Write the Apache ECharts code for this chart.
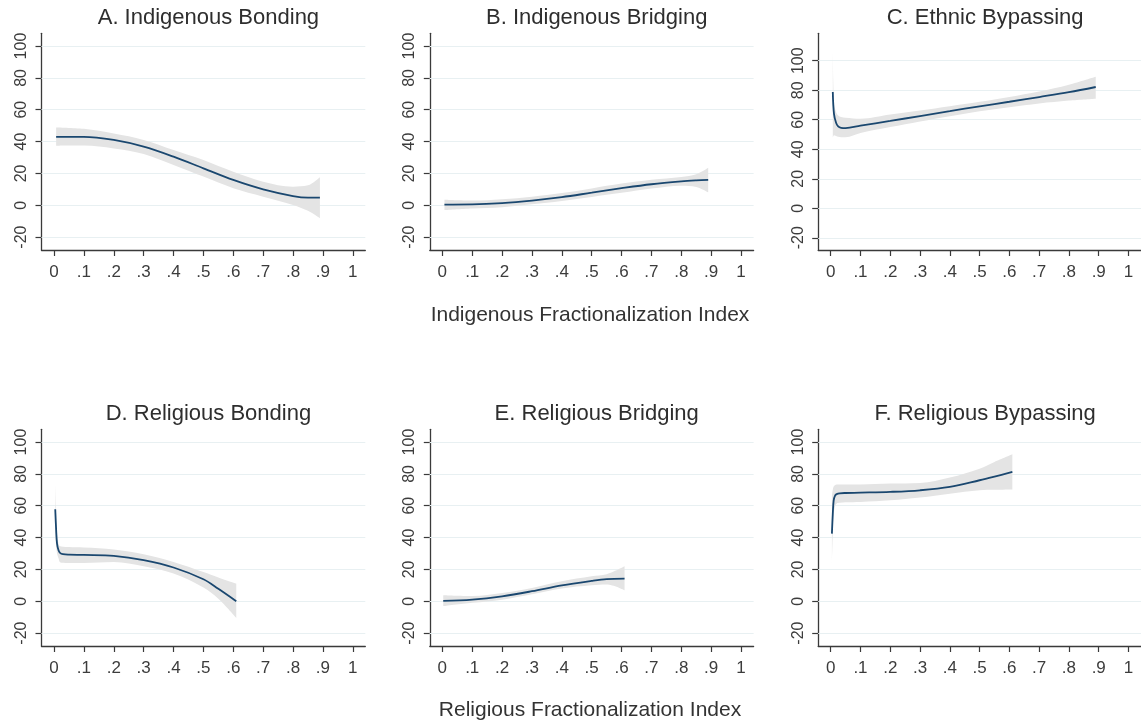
<!DOCTYPE html>
<html>
<head>
<meta charset="utf-8">
<script src="https://cdn.jsdelivr.net/npm/echarts@6/dist/echarts.min.js"></script>
<style>
html,body{margin:0;padding:0;background:#fff;}
#chart{width:1141px;height:726px;}
</style>
</head>
<body>
<div id="chart"></div>
<script>
// ---------- data ----------
const panelTitles = ["A. Indigenous Bonding","B. Indigenous Bridging","C. Ethnic Bypassing",
                     "D. Religious Bonding","E. Religious Bridging","F. Religious Bypassing"];
const axisTitles = ["Indigenous Fractionalization Index","Religious Fractionalization Index"];
const xTickValues = [0,0.1,0.2,0.3,0.4,0.5,0.6,0.7,0.8,0.9,1];
const xTickLabels = ["0",".1",".2",".3",".4",".5",".6",".7",".8",".9","1"];
const yTickValues = [-20,0,20,40,60,80,100];
const yTickLabels = ["-20","0","20","40","60","80","100"];

// Panel A
const xA     = [0.007,0.1,0.2,0.3,0.4,0.5,0.6,0.7,0.8,0.85,0.89];
const fitA   = [43.0,43.0,41.0,36.8,30.5,23.2,15.9,10.0,5.8,4.8,4.8];
const upA    = [48.9,48.0,45.0,41.0,34.7,28.4,21.0,14.8,11.7,12.5,17.6];
const loA    = [37.4,37.5,35.7,32.2,25.3,18.0,10.7,5.4,0.2,-3.5,-8.2];
// Panel B
const xB     = [0.007,0.1,0.2,0.3,0.4,0.5,0.6,0.7,0.8,0.85,0.89];
const fitB   = [0.4,0.5,1.3,2.9,5.1,7.9,10.7,13.2,15.0,15.6,15.9];
const upB    = [3.5,3.0,3.8,5.4,7.7,10.6,13.6,16.0,17.8,19.5,23.6];
const loB    = [-3.0,-2.0,-1.2,0.6,2.7,5.2,7.8,10.5,12.3,11.5,8.1];
// Panel C
const xC     = [0.007,0.011,0.018,0.025,0.035,0.05,0.1,0.2,0.3,0.4,0.5,0.6,0.7,0.8,0.89];
const fitC   = [78.8,64.0,58.0,55.5,54.5,54.3,56.0,59.2,62.5,65.8,69.1,72.2,75.4,78.7,82.2];
const upC    = [109.4,72.0,65.0,62.8,61.8,61.4,60.7,63.5,66.3,69.2,72.2,75.5,79.2,83.8,89.2];
const loC    = [47.8,49.5,49.0,48.5,48.2,48.2,51.0,55.0,58.8,62.4,65.8,68.5,71.0,73.0,74.3];
// Panel D
const xD     = [0.004,0.007,0.01,0.015,0.02,0.03,0.05,0.1,0.2,0.3,0.4,0.5,0.55,0.61];
const fitD   = [57.8,45.0,36.2,32.0,30.4,29.6,29.3,29.1,28.5,25.8,21.2,13.8,7.8,0.0];
const upD    = [73.9,55.0,42.0,36.0,34.5,34.3,34.0,33.7,32.5,29.5,24.7,18.4,15.0,11.1];
const loD    = [41.5,35.0,30.0,27.0,24.5,24.2,24.1,24.1,24.7,22.0,17.4,8.6,1.5,-10.5];
// Panel E
const xE     = [0.003,0.1,0.2,0.3,0.4,0.5,0.55,0.61];
const fitE   = [0.2,1.0,3.1,6.3,10.0,12.8,13.9,14.2];
const upE    = [3.8,3.3,5.2,8.4,12.6,15.7,17.0,22.0];
const loE    = [-3.1,-1.0,1.0,4.4,8.0,10.0,10.5,6.9];
// Panel F
const xF     = [0.004,0.007,0.01,0.015,0.02,0.03,0.05,0.1,0.2,0.3,0.4,0.5,0.55,0.61];
const fitF   = [42.5,55.0,63.4,66.5,67.3,67.8,68.0,68.2,68.7,69.7,71.8,76.0,78.3,81.2];
const upF    = [66.0,70.0,72.0,73.0,73.3,73.3,73.3,73.3,73.9,74.3,77.7,83.3,87.5,92.3];
const loF    = [23.7,43.0,55.0,60.0,61.4,61.8,62.2,62.4,63.4,65.1,67.6,69.7,70.0,70.2];

const panels = [
  {x:xA, fit:fitA, up:upA, lo:loA},
  {x:xB, fit:fitB, up:upB, lo:loB},
  {x:xC, fit:fitC, up:upC, lo:loC},
  {x:xD, fit:fitD, up:upD, lo:loD},
  {x:xE, fit:fitE, up:upE, lo:loE},
  {x:xF, fit:fitF, up:upF, lo:loF}
];
const yRanges = [[-28.1,108],[-28.1,108],[-28.3,118.6],[-28.1,108],[-28.1,108],[-28.1,108]];

// ---------- layout ----------
const FONT = '"Liberation Sans", Arial, Helvetica, sans-serif';
const lefts = [41.5, 429.8, 818.2];
const tops = [33.3, 429.3];
const GW = 323.8, GH = 216.7;
const txtColor = '#3c3c3c';
const SMOOTH = 0.35;

const grids = [], xAxes = [], yAxes = [], series = [], titles = [];
panels.forEach((p, i) => {
  const col = i % 3, row = Math.floor(i / 3);
  grids.push({left: lefts[col], top: tops[row], width: GW, height: GH, containLabel: false});
  xAxes.push({
    type: 'value', gridIndex: i, min: -0.042, max: 1.042,
    axisLine: {show: true, onZero: false, lineStyle: {color: '#3a3a3a', width: 1.3}},
    axisTick: {show: true, length: 6, customValues: xTickValues, lineStyle: {color: '#3a3a3a', width: 1.2}},
    axisLabel: {show: true, customValues: xTickValues, margin: 14, fontSize: 17, fontFamily: FONT, color: txtColor,
      formatter: v => { const k = xTickValues.findIndex(t => Math.abs(t - v) < 1e-9); return k >= 0 ? xTickLabels[k] : ''; }},
    splitLine: {show: false}
  });
  yAxes.push({
    type: 'value', gridIndex: i, min: yRanges[i][0], max: yRanges[i][1],
    axisLine: {show: true, onZero: false, lineStyle: {color: '#3a3a3a', width: 1.3}},
    axisTick: {show: true, length: 6, customValues: yTickValues, lineStyle: {color: '#3a3a3a', width: 1.2}},
    axisLabel: {show: true, customValues: yTickValues, rotate: 90, margin: 12, fontSize: 16, fontFamily: FONT, color: txtColor,
      formatter: v => { const k = yTickValues.findIndex(t => Math.abs(t - v) < 1e-9); return k >= 0 ? yTickLabels[k] : ''; }},
    splitLine: {show: false}
  });
  const stackName = 'ci' + i;
  // rows are [value, x] so that the stacked dimension is the y value
  series.push({
    type: 'line', xAxisIndex: i, yAxisIndex: i, stack: stackName, stackStrategy: 'all',
    encode: {x: 1, y: 0},
    data: p.x.map((x, k) => [p.lo[k], x]), symbol: 'none', smooth: SMOOTH,
    lineStyle: {opacity: 0}, silent: true, z: 2,
    markLine: {
      silent: true, symbol: ['none','none'], label: {show: false}, z: 1,
      lineStyle: {color: '#e8f0f2', width: 1.2, type: 'solid'},
      emphasis: {disabled: true},
      data: yTickValues.map(v => ({yAxis: v})), animation: false
    }
  });
  series.push({
    type: 'line', xAxisIndex: i, yAxisIndex: i, stack: stackName, stackStrategy: 'all',
    encode: {x: 1, y: 0},
    data: p.x.map((x, k) => [p.up[k] - p.lo[k], x]), symbol: 'none', smooth: SMOOTH,
    lineStyle: {opacity: 0}, areaStyle: {color: '#e4e4e4', opacity: 1}, silent: true, z: 3
  });
  series.push({
    type: 'line', xAxisIndex: i, yAxisIndex: i,
    data: p.x.map((x, k) => [x, p.fit[k]]), symbol: 'none', smooth: SMOOTH,
    lineStyle: {color: '#1a476f', width: 1.8}, silent: true, z: 6
  });
  titles.push({
    text: panelTitles[i], left: lefts[col] + GW / 2, top: tops[row] - 31, textAlign: 'center',
    textStyle: {fontSize: 22, fontWeight: 'normal', fontFamily: FONT, color: '#2e2e2e'}
  });
});
titles.push({text: axisTitles[0], left: 585, top: 300, textAlign: 'center',
  textStyle: {fontSize: 21, fontWeight: 'normal', fontFamily: FONT, color: '#333'}});
titles.push({text: axisTitles[1], left: 585, top: 695, textAlign: 'center',
  textStyle: {fontSize: 21, fontWeight: 'normal', fontFamily: FONT, color: '#333'}});

const chart = echarts.init(document.getElementById('chart'), null, {renderer: 'canvas'});
chart.setOption({
  animation: false,
  backgroundColor: '#fff',
  title: titles,
  grid: grids,
  xAxis: xAxes,
  yAxis: yAxes,
  series: series
});
</script>
</body>
</html>
